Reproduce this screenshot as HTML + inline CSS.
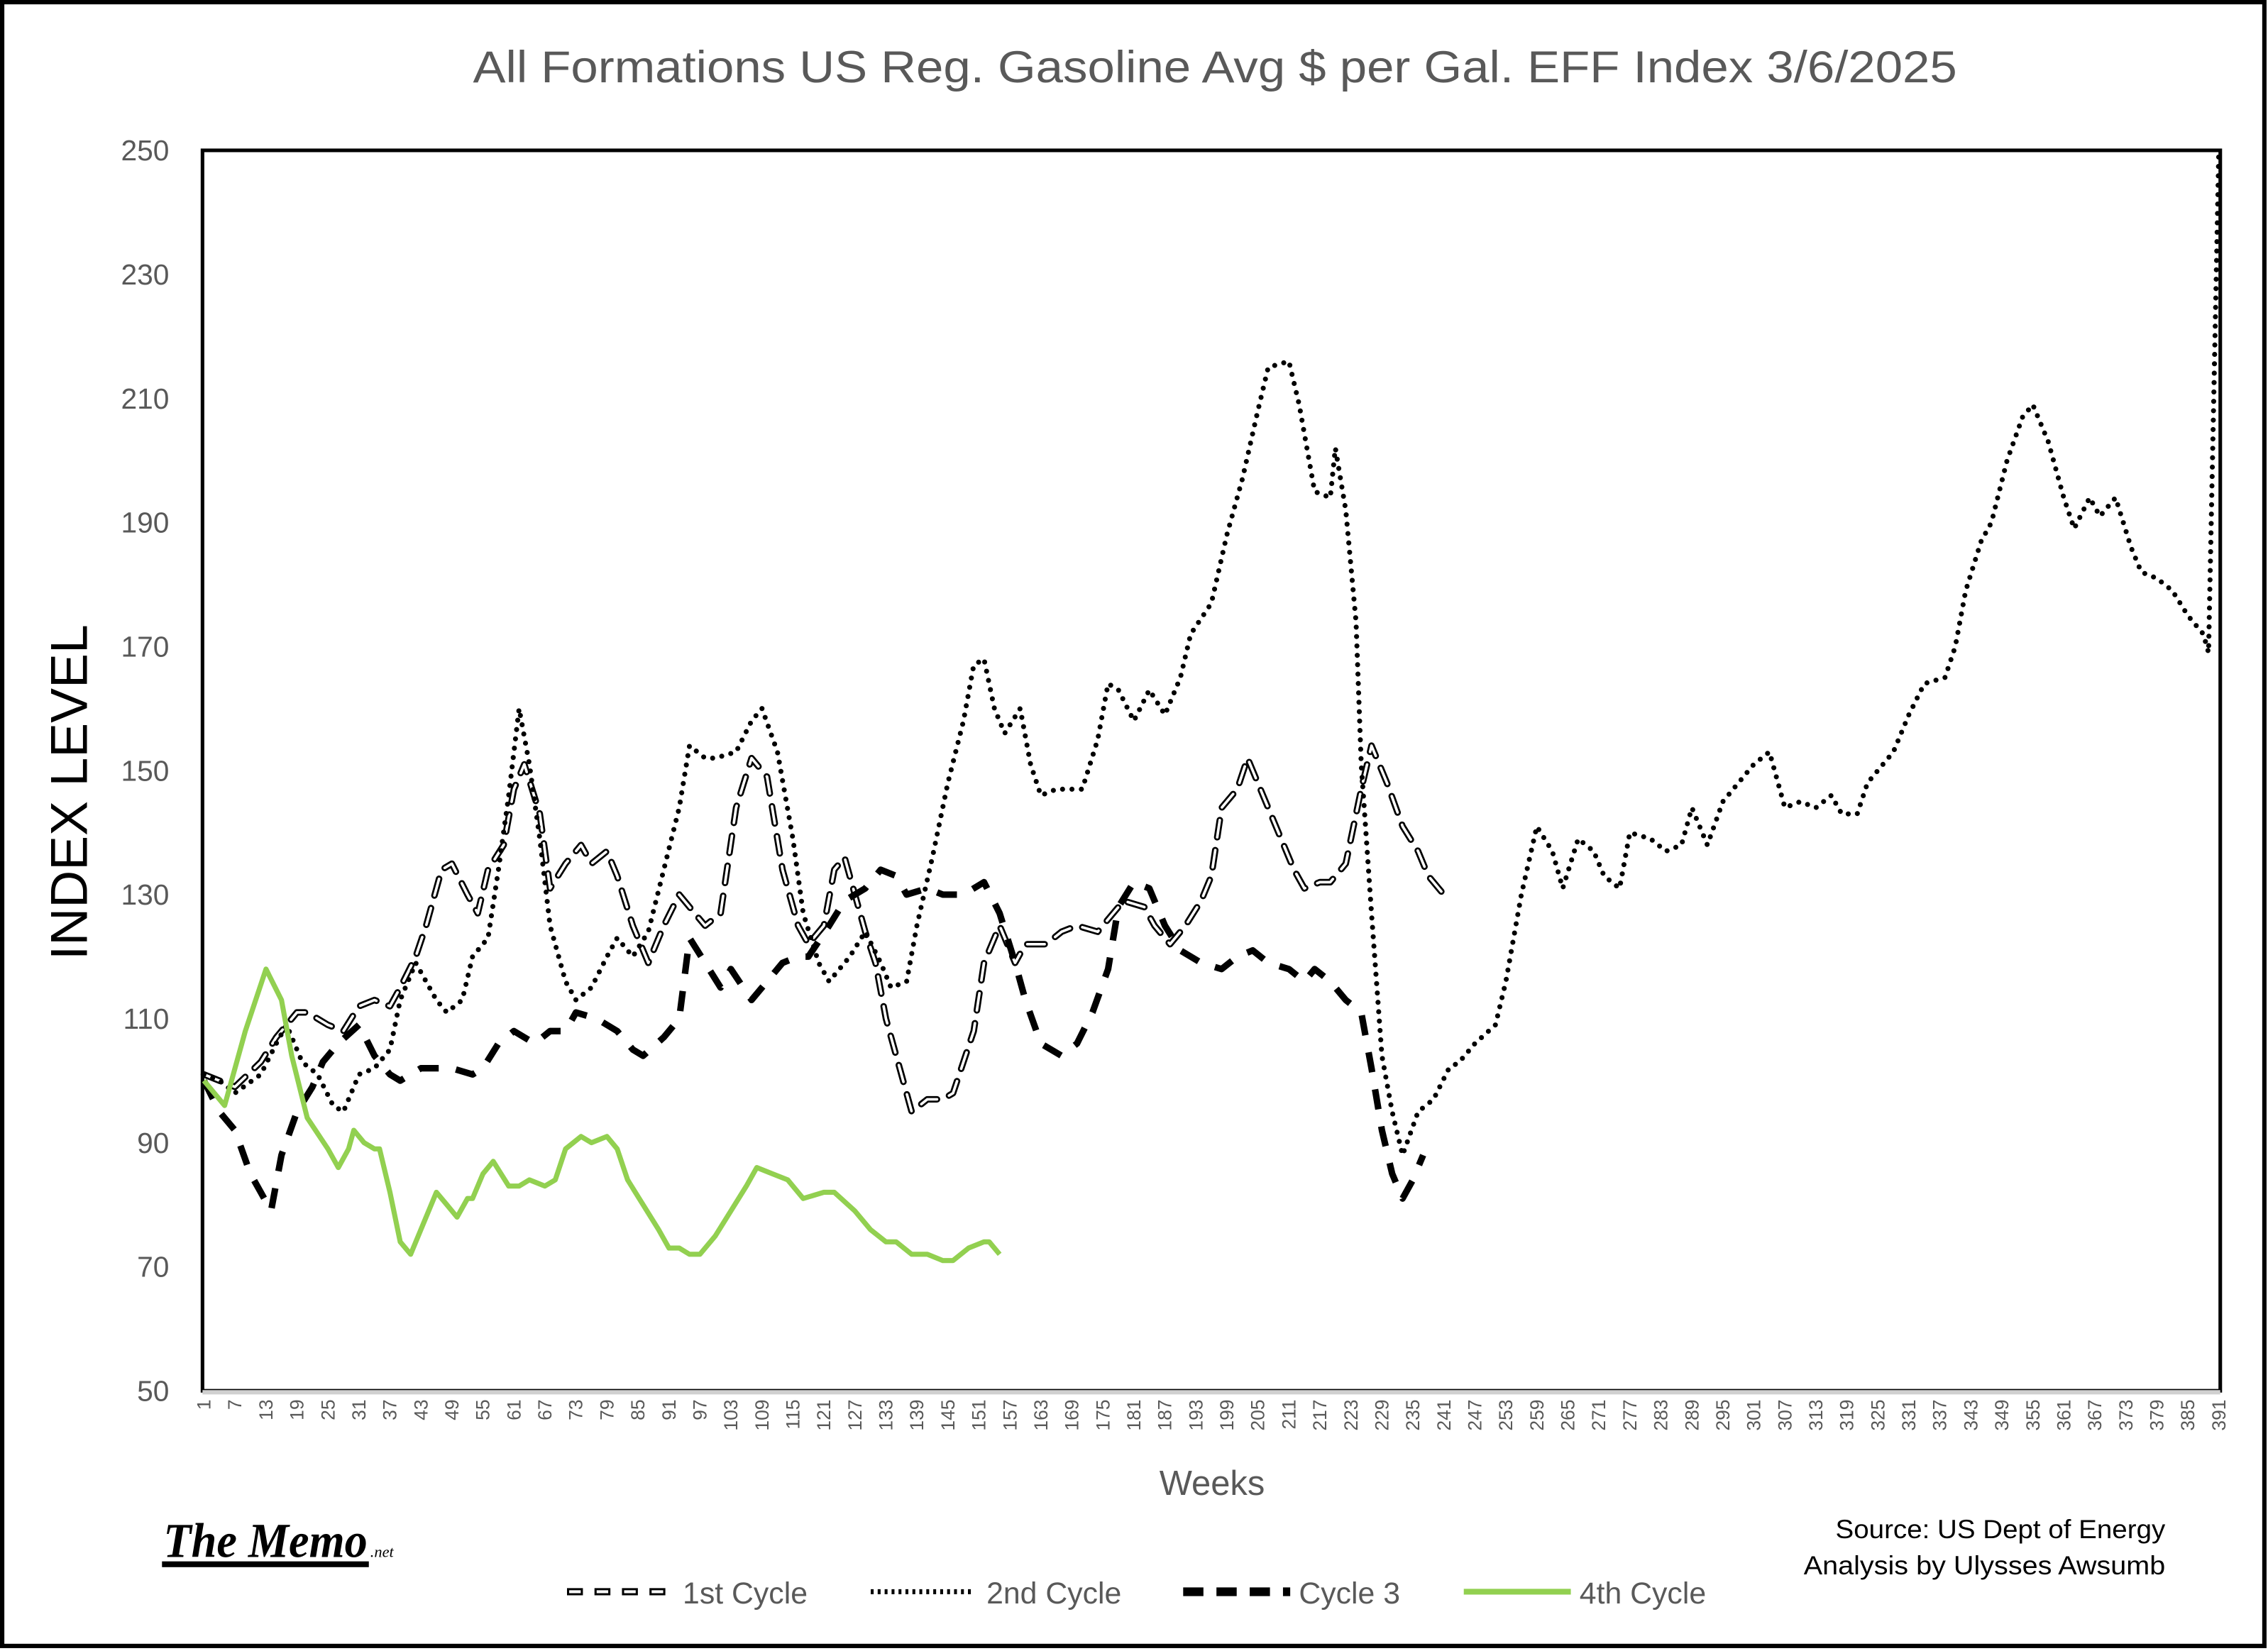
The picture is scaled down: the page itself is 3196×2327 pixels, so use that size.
<!DOCTYPE html>
<html><head><meta charset="utf-8"><style>
html,body{margin:0;padding:0;background:#fff;}
svg{display:block;}
text{font-family:"Liberation Sans",sans-serif;}
</style></head><body>
<svg id="chart" width="3196" height="2327" viewBox="0 0 1568 1142" preserveAspectRatio="none" xmlns="http://www.w3.org/2000/svg">
<rect x="1.5" y="1.5" width="1564" height="1137" fill="#fff" stroke="#000" stroke-width="3"/>
<text x="327" y="57" font-size="31" fill="#595959" textLength="1026" lengthAdjust="spacingAndGlyphs">All Formations US Reg. Gasoline Avg $ per Gal. EFF Index 3/6/2025</text>
<rect x="140" y="104" width="1395" height="858" fill="none" stroke="#000" stroke-width="2.5"/>
<line x1="140" y1="963" x2="1535" y2="963" stroke="#d0d0d0" stroke-width="3"/>
<g id="yticks"></g>
<g id="xticks"></g>
<g id="series"></g>
<text transform="translate(60,548) rotate(-90)" font-size="36" fill="#000" text-anchor="middle">INDEX LEVEL</text>
<text x="838" y="1034" font-size="24" fill="#595959" text-anchor="middle">Weeks</text>
<g>
<text x="113" y="1077" style="font-family:'Liberation Serif',serif;font-weight:bold;font-style:italic;" font-size="34" fill="#000" textLength="141" lengthAdjust="spacingAndGlyphs">The Memo</text>
<text x="256" y="1077" style="font-family:'Liberation Serif',serif;font-style:italic;" font-size="11" fill="#000">.net</text>
<rect x="112" y="1080" width="143" height="4" fill="#000"/>
</g>
<text x="1497" y="1064" font-size="18" fill="#000" text-anchor="end" textLength="228" lengthAdjust="spacingAndGlyphs">Source: US Dept of Energy</text>
<text x="1497" y="1089" font-size="18" fill="#000" text-anchor="end" textLength="250" lengthAdjust="spacingAndGlyphs">Analysis by Ulysses Awsumb</text>
<g id="legend"></g>
</svg>
<script>
const yTicks=[50,70,90,110,130,150,170,190,210,230,250];
const weeksMax=391;
const c1W=[1,4,7,12,15,19,21,25,28,31,34,37,39,42,44,47,49,52,54,56,59,61,63,66,68,71,74,76,79,81,84,87,90,93,96,98,101,104,107,110,113,116,118,121,123,125,129,131,133,136,138,141,144,146,150,152,155,158,160,164,167,170,174,177,179,183,185,188,191,194,196,198,201,203,206,209,212,214,217,219,222,225,227,230,233,236,238,242];
const c1V=[101,100,99,103,107,111,111,109,108,112,113,112,115,120,125,134,135,130,127,134,138,147,151,143,131,135,138,135,137,133,125,119,125,130,127,125,127,144,152,149,134,125,122,125,134,136,124,119,110,101,95,97,97,98,108,119,125,119,122,122,124,125,124,127,129,128,125,122,125,129,133,144,147,152,146,140,134,131,132,132,135,147,154,148,141,137,133,129];
const c2W=[1,4,7,12,15,17,20,23,26,28,31,34,37,39,42,46,48,51,53,56,58,60,62,64,66,68,71,73,76,79,81,84,87,90,93,95,98,100,104,107,109,112,115,117,120,122,126,129,132,134,137,139,142,145,148,150,152,154,156,159,161,163,166,168,171,174,176,178,181,184,187,190,192,196,199,202,205,207,211,213,216,219,220,222,224,225,227,229,231,233,236,239,242,244,247,251,253,256,259,262,264,267,270,272,275,277,281,284,287,289,292,295,298,301,304,307,310,313,316,318,321,323,326,328,331,334,338,340,342,345,347,350,353,355,358,361,363,366,368,371,374,376,379,382,385,388,389,391];
const c2V=[101,100,98,101,106,109,103,101,96,95,101,102,105,113,119,113,111,113,120,123,134,146,160,151,139,125,116,113,115,120,123,120,124,134,144,154,152,152,153,158,160,153,139,127,119,116,120,124,119,115,116,125,136,148,158,167,168,160,156,160,151,146,147,147,147,155,164,163,158,163,159,165,172,177,188,197,208,215,216,209,195,194,202,192,174,151,127,104,95,88,95,97,102,103,106,109,116,130,141,137,131,139,137,133,131,140,139,137,138,144,138,145,148,151,153,144,145,144,146,143,143,148,151,153,159,164,165,170,179,187,190,200,207,209,203,194,189,194,191,194,186,182,181,179,175,172,169,250];
const c3W=[1,4,7,10,12,14,16,19,22,24,27,31,34,37,39,43,46,49,53,55,58,61,65,68,71,73,77,81,84,86,90,93,95,98,101,103,107,110,113,116,118,122,125,129,132,135,137,141,144,148,152,155,158,160,163,167,170,173,176,178,181,184,187,190,194,198,201,204,207,211,214,216,219,222,225,227,229,231,233,235,237];
const c3V=[100,95,92,85,82,79,88,95,99,103,106,109,104,101,100,102,102,102,101,102,106,108,106,108,108,111,110,108,105,104,107,110,123,119,115,118,113,116,119,120,120,125,129,131,134,133,130,131,130,130,132,127,119,113,106,104,106,111,118,128,132,131,125,121,119,118,120,121,119,118,116,118,116,113,111,102,92,85,81,84,88];
const c4W=[1,5,9,13,16,18,21,25,27,29,30,32,34,35,37,39,41,43,46,48,50,52,53,55,57,60,62,64,67,69,71,74,76,79,81,83,86,89,91,93,95,97,100,103,106,108,111,114,117,121,123,127,130,133,135,138,141,144,146,149,152,153,155];
const c4V=[100,96,108,118,113,104,94,89,86,89,92,90,89,89,82,74,72,76,82,80,78,81,81,85,87,83,83,84,83,84,89,91,90,91,89,84,80,76,73,73,72,72,75,79,83,86,85,84,81,82,82,79,76,74,74,72,72,71,71,73,74,74,72];
const legendNames=["1st Cycle","2nd Cycle","Cycle 3","4th Cycle"];

const NS="http://www.w3.org/2000/svg";
const X0=141,X1=1534,Y0=962,Y1=104;
function xs(w){return X0+(w-1)*(X1-X0)/(weeksMax-1);}
function ys(v){return Y0-(v-50)*(Y0-Y1)/200;}
function mk(tag,attrs,parent){const e=document.createElementNS(NS,tag);for(const k in attrs)e.setAttribute(k,attrs[k]);parent.appendChild(e);return e;}

const yg=document.getElementById('yticks');
yTicks.forEach(v=>{
  const t=mk('text',{x:117,y:ys(v)+7,'font-size':20,fill:'#595959','text-anchor':'end'},yg);
  
  
  t.textContent=v;
});
const xg=document.getElementById('xticks');
for(let w=1;w<=weeksMax;w+=6){
  const x=xs(w);
  const t=mk('text',{transform:`translate(${x+4.5},968) rotate(-90)`,'font-size':13,fill:'#595959','text-anchor':'end'},xg);
  
  
  t.textContent=w;
}
function pts(W,V){return W.map((w,i)=>xs(w).toFixed(1)+','+ys(V[i]).toFixed(1)).join(' ');}
const sg=document.getElementById('series');
let p;
p=mk('polyline',{points:pts(c1W,c1V),fill:'none',stroke:'#000','stroke-width':4.5,'stroke-dasharray':'12 9','stroke-linecap':'round','stroke-linejoin':'round'},sg);


p=mk('polyline',{points:pts(c1W,c1V),fill:'none',stroke:'#fff','stroke-width':1.8,'stroke-dasharray':'12 9','stroke-linecap':'round','stroke-linejoin':'round'},sg);


p=mk('polyline',{points:pts(c2W,c2V),fill:'none',stroke:'#000','stroke-width':3.5,'stroke-dasharray':'0 6.5','stroke-linecap':'round','stroke-linejoin':'round'},sg);


p=mk('polyline',{points:pts(c3W,c3V),fill:'none',stroke:'#000','stroke-width':4.5,'stroke-dasharray':'14 12','stroke-linejoin':'round'},sg);


p=mk('polyline',{points:pts(c4W,c4V),fill:'none',stroke:'#92d050','stroke-width':3.5,'stroke-linejoin':'round'},sg);



const lg=document.getElementById('legend');
const lx=[392,602,818,1012];
const ly=1101;
legendNames.forEach((n,i)=>{
  const g=mk('g',{},lg);
  
  
  const x=lx[i];
  if(i===0){
    mk('line',{x1:x,y1:ly,x2:x+72,y2:ly,stroke:'#000','stroke-width':5,'stroke-dasharray':'11 8'},g);
    mk('line',{x1:x+1.5,y1:ly,x2:x+72,y2:ly,stroke:'#fff','stroke-width':2,'stroke-dasharray':'8 11'},g);
  } else if(i===1){
    mk('line',{x1:x,y1:ly,x2:x+70,y2:ly,stroke:'#000','stroke-width':3.5,'stroke-dasharray':'2 2.8'},g);
  } else if(i===2){
    mk('line',{x1:x,y1:ly,x2:x+74,y2:ly,stroke:'#000','stroke-width':6,'stroke-dasharray':'14 9'},g);
  } else {
    mk('line',{x1:x,y1:ly,x2:x+74,y2:ly,stroke:'#92d050','stroke-width':4},g);
  }
  const t=mk('text',{x:x+80,y:ly+8,'font-size':21,fill:'#595959'},g);
  t.textContent=n;
});
</script>
</body></html>
